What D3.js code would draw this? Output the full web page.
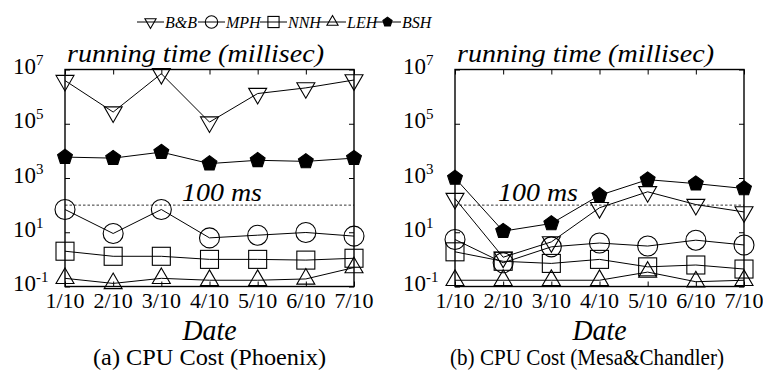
<!DOCTYPE html>
<html>
<head>
<meta charset="utf-8">
<script src="https://cdn.jsdelivr.net/npm/d3@7"></script>
<style>
  body { margin: 0; background: #fff; }
  svg text { font-family: "Liberation Serif", "Times New Roman", serif; }
</style>
</head>
<body>
<div id="chart"></div>
<script>
var width = 763, height = 373;

// x categories
var dates = ['1/10', '2/10', '3/10', '4/10', '5/10', '6/10', '7/10'];
var yTicks = [0.1, 10, 1e3, 1e5, 1e7];
var seriesNames = ['B&B', 'MPH', 'NNH', 'LEH', 'BSH'];

// (a) Phoenix
var bbA  = [3.9e6, 2.7e5, 7e6, 1.15e5, 1.3e6, 2.1e6, 4.1e6];
var mphA = [69, 9, 69, 6.2, 7.8, 9.8, 7.2];
var nnhA = [2.0, 1.3, 1.3, 1.0, 1.0, 0.94, 1.1];
var lehA = [0.2, 0.13, 0.2, 0.17, 0.17, 0.19, 0.5];
var bshA = [5900, 5400, 9000, 3400, 4500, 4100, 5400];

// (b) Mesa&Chandler
var bbB  = [175, 1.2, 4.4, 80, 310, 105, 56];
var mphB = [5.4, 0.75, 2.9, 4.0, 3.1, 5.1, 3.4];
var nnhB = [1.9, 0.85, 0.71, 1.0, 0.53, 0.62, 0.44];
var lehB = [0.17, 0.17, 0.17, 0.17, 0.34, 0.15, 0.17];
var bshB = [1000, 11, 21, 230, 870, 620, 410];

var svg = d3.select('#chart').append('svg')
  .attr('width', width)
  .attr('height', height);

// text helper, len stretches the text to the width seen in the original
function label(parent, x, y, size, anchor, str, ital, len) {
  var t = parent.append('text')
    .attr('x', x).attr('y', y)
    .attr('text-anchor', anchor)
    .attr('font-style', ital ? 'italic' : 'normal')
    .attr('font-size', size)
    .text(str);
  if (len) t.attr('textLength', len).attr('lengthAdjust', 'spacingAndGlyphs');
  return t;
}

function pentagon(r) {
  var pts = d3.range(5).map(function(k) {
    var a = -Math.PI / 2 + k * 2 * Math.PI / 5;
    return [r * Math.cos(a), r * Math.sin(a)];
  });
  return 'M' + pts.join('L') + 'Z';
}

// marker drawing, s = scale factor (1 in plot, smaller in legend)
function marker(g, name, s) {
  var p;
  if (name == 'B&B') {
    p = g.append('path').attr('d', d3.symbol(d3.symbolTriangle, 140 * s * s)())
      .attr('transform', 'rotate(180)');
  } else if (name == 'MPH') {
    p = g.append('circle').attr('r', 10 * s);
  } else if (name == 'NNH') {
    p = g.append('rect').attr('x', -9 * s).attr('y', -9 * s)
      .attr('width', 18 * s).attr('height', 18 * s);
  } else if (name == 'LEH') {
    p = g.append('path').attr('d', d3.symbol(d3.symbolTriangle, 140 * s * s)());
  } else {
    p = g.append('path').attr('d', pentagon(7.8 * s));
  }
  p.attr('fill', name == 'BSH' ? '#000' : 'none')
    .attr('stroke', '#000')
    .attr('stroke-width', 1.1);
}

function panel(left, right, series, caption, capLen, capX, msX) {
  var top = 69.5, bottom = 286.5;
  var x = d3.scalePoint().domain(dates).range([left, right]);
  var y = d3.scaleLog().domain([0.1, 1e7]).range([bottom, top]);
  var g = svg.append('g');

  var axes = [
    [d3.axisBottom(x), 0, bottom],
    [d3.axisTop(x), 0, top],
    [d3.axisLeft(y).tickValues(yTicks), left, 0],
    [d3.axisRight(y).tickValues(yTicks), right, 0]
  ];
  axes.forEach(function(a) {
    var ax = g.append('g')
      .attr('transform', 'translate(' + a[1] + ',' + a[2] + ')')
      .call(a[0].tickSize(-5).tickSizeOuter(0).tickFormat(''));
    ax.select('.domain').remove();
    ax.selectAll('line').attr('stroke-width', 1);
  });

  // x labels
  g.selectAll('.xl').data(dates).enter().append('text')
    .attr('x', function(d) { return x(d); })
    .attr('y', bottom + 21)
    .attr('text-anchor', 'middle')
    .attr('font-size', 22)
    .text(function(d) { return d; });

  // y labels 10^n
  var yl = g.selectAll('.yl').data(yTicks).enter().append('text')
    .attr('x', left - 52)
    .attr('y', function(d) { return y(d) + 4.5; })
    .attr('font-size', 23);
  yl.append('tspan').text('10');
  yl.append('tspan')
    .attr('dy', -9)
    .attr('font-size', 15)
    .text(function(d) { return Math.round(Math.log10(d)); });

  // 100 ms reference
  g.append('line')
    .attr('x1', left).attr('x2', right)
    .attr('y1', y(100)).attr('y2', y(100))
    .attr('stroke', '#000').attr('stroke-width', 0.8)
    .attr('stroke-dasharray', '2.5,2');
  label(g, left + msX, y(100) - 4.5, 26, 'start', '100 ms', true, 80);

  var line = d3.line()
    .x(function(d, i) { return x(dates[i]); })
    .y(function(d) { return y(d); });

  series.forEach(function(vals, k) {
    g.append('path')
      .datum(vals)
      .attr('d', line)
      .attr('fill', 'none')
      .attr('stroke', '#000')
      .attr('stroke-width', 1);
    vals.forEach(function(v, i) {
      var m = g.append('g').attr('transform', 'translate(' + x(dates[i]) + ',' + y(v) + ')');
      marker(m, seriesNames[k], 1);
    });
  });

  // frame
  g.append('rect')
    .attr('x', left).attr('y', top)
    .attr('width', right - left).attr('height', bottom - top)
    .attr('fill', 'none').attr('stroke', '#000').attr('stroke-width', 1.4);

  label(g, left + 2, 62, 25, 'start', 'running time (millisec)', true, 257);
  label(g, (left + right) / 2, 340, 29, 'middle', 'Date', true, 54);
  label(g, left + capX, 365, 23, 'middle', caption, false, capLen);
}

panel(65, 354, [bbA, mphA, nnhA, lehA, bshA], '(a) CPU Cost (Phoenix)', 233, 144.5, 117);
panel(455, 744, [bbB, mphB, nnhB, lehB, bshB], '(b) CPU Cost (Mesa&Chandler)', 274, 132, 43);

// legend
var legX = [137, 198, 260, 319, 374];
var leg = svg.append('g');
seriesNames.forEach(function(name, i) {
  var e = leg.append('g').attr('transform', 'translate(' + legX[i] + ',22)');
  e.append('line').attr('x1', 0).attr('x2', 27)
    .attr('stroke', '#000').attr('stroke-width', 1);
  marker(e.append('g').attr('transform', 'translate(13.5,0)'), name, 0.62);
  label(e, 28, 5.5, 16, 'start', name, true);
});
</script>
</body>
</html>
